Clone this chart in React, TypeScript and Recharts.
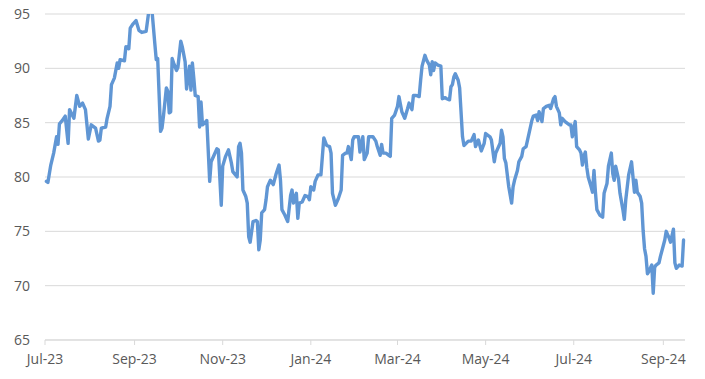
import React from 'react';
import { LineChart, Line, XAxis, YAxis, CartesianGrid } from 'recharts';

// Daily readings, Jul-2023 .. Sep-2024
const dates = [
  '2023-07-02', '2023-07-03', '2023-07-05', '2023-07-07', '2023-07-09', '2023-07-10', '2023-07-11', '2023-07-13',
  '2023-07-15', '2023-07-17', '2023-07-18', '2023-07-21', '2023-07-23', '2023-07-25', '2023-07-27', '2023-07-29',
  '2023-07-31', '2023-08-02', '2023-08-05', '2023-08-07', '2023-08-08', '2023-08-09', '2023-08-12', '2023-08-13',
  '2023-08-15', '2023-08-16', '2023-08-18', '2023-08-20', '2023-08-21', '2023-08-22', '2023-08-25', '2023-08-26',
  '2023-08-28', '2023-08-29', '2023-08-31', '2023-09-02', '2023-09-04', '2023-09-06', '2023-09-09', '2023-09-10',
  '2023-09-11', '2023-09-13', '2023-09-15', '2023-09-16', '2023-09-17', '2023-09-19', '2023-09-20', '2023-09-21',
  '2023-09-23', '2023-09-24', '2023-09-25', '2023-09-26', '2023-09-27', '2023-09-28', '2023-09-30', '2023-10-01',
  '2023-10-03', '2023-10-04', '2023-10-06', '2023-10-07', '2023-10-09', '2023-10-10', '2023-10-11', '2023-10-12',
  '2023-10-13', '2023-10-15', '2023-10-16', '2023-10-17', '2023-10-18', '2023-10-19', '2023-10-21', '2023-10-23',
  '2023-10-24', '2023-10-27', '2023-10-28', '2023-10-29', '2023-10-31', '2023-11-01', '2023-11-03', '2023-11-05',
  '2023-11-07', '2023-11-08', '2023-11-11', '2023-11-12', '2023-11-13', '2023-11-14', '2023-11-15', '2023-11-17',
  '2023-11-18', '2023-11-19', '2023-11-20', '2023-11-22', '2023-11-24', '2023-11-25', '2023-11-26', '2023-11-27',
  '2023-11-28', '2023-11-30', '2023-12-01', '2023-12-02', '2023-12-04', '2023-12-06', '2023-12-08', '2023-12-10',
  '2023-12-11', '2023-12-12', '2023-12-14', '2023-12-16', '2023-12-18', '2023-12-19', '2023-12-20', '2023-12-22',
  '2023-12-23', '2023-12-24', '2023-12-26', '2023-12-28', '2023-12-30', '2023-12-31', '2024-01-01', '2024-01-03',
  '2024-01-04', '2024-01-06', '2024-01-08', '2024-01-09', '2024-01-10', '2024-01-12', '2024-01-14', '2024-01-15',
  '2024-01-16', '2024-01-18', '2024-01-20', '2024-01-22', '2024-01-23', '2024-01-25', '2024-01-26', '2024-01-27',
  '2024-01-29', '2024-01-30', '2024-01-31', '2024-02-03', '2024-02-04', '2024-02-06', '2024-02-07', '2024-02-09',
  '2024-02-10', '2024-02-13', '2024-02-15', '2024-02-16', '2024-02-18', '2024-02-19', '2024-02-20', '2024-02-22',
  '2024-02-24', '2024-02-25', '2024-02-26', '2024-02-28', '2024-03-01', '2024-03-02', '2024-03-04', '2024-03-06',
  '2024-03-08', '2024-03-09', '2024-03-11', '2024-03-12', '2024-03-14', '2024-03-16', '2024-03-17', '2024-03-18',
  '2024-03-20', '2024-03-21', '2024-03-23', '2024-03-24', '2024-03-25', '2024-03-26', '2024-03-27', '2024-03-29',
  '2024-03-31', '2024-04-01', '2024-04-03', '2024-04-04', '2024-04-06', '2024-04-07', '2024-04-08', '2024-04-09',
  '2024-04-10', '2024-04-12', '2024-04-13', '2024-04-15', '2024-04-16', '2024-04-19', '2024-04-21', '2024-04-23',
  '2024-04-24', '2024-04-26', '2024-04-28', '2024-04-30', '2024-05-01', '2024-05-04', '2024-05-05', '2024-05-07',
  '2024-05-08', '2024-05-11', '2024-05-12', '2024-05-13', '2024-05-14', '2024-05-15', '2024-05-17', '2024-05-19',
  '2024-05-20', '2024-05-21', '2024-05-23', '2024-05-24', '2024-05-26', '2024-05-27', '2024-05-29', '2024-05-31',
  '2024-06-02', '2024-06-03', '2024-06-05', '2024-06-06', '2024-06-07', '2024-06-09', '2024-06-10', '2024-06-12',
  '2024-06-14', '2024-06-15', '2024-06-17', '2024-06-18', '2024-06-19', '2024-06-21', '2024-06-22', '2024-06-23',
  '2024-06-25', '2024-06-28', '2024-06-29', '2024-06-30', '2024-07-02', '2024-07-03', '2024-07-05', '2024-07-06',
  '2024-07-07', '2024-07-08', '2024-07-09', '2024-07-10', '2024-07-11', '2024-07-13', '2024-07-14', '2024-07-15',
  '2024-07-16', '2024-07-17', '2024-07-19', '2024-07-21', '2024-07-22', '2024-07-24', '2024-07-25', '2024-07-27',
  '2024-07-28', '2024-07-29', '2024-07-30', '2024-08-01', '2024-08-02', '2024-08-04', '2024-08-05', '2024-08-06',
  '2024-08-08', '2024-08-10', '2024-08-11', '2024-08-12', '2024-08-13', '2024-08-14', '2024-08-16', '2024-08-17',
  '2024-08-18', '2024-08-19', '2024-08-20', '2024-08-21', '2024-08-22', '2024-08-24', '2024-08-25', '2024-08-26',
  '2024-08-27', '2024-08-29', '2024-08-30', '2024-09-01', '2024-09-02', '2024-09-03', '2024-09-05', '2024-09-06',
  '2024-09-08', '2024-09-09', '2024-09-10', '2024-09-12', '2024-09-14', '2024-09-15',
];

const values = [
  79.6, 79.5, 81.1, 82.2, 83.7, 83.0, 84.9, 85.2,
  85.6, 83.1, 86.2, 85.4, 87.5, 86.5, 86.8, 86.2,
  83.5, 84.8, 84.5, 83.3, 83.4, 84.5, 84.6, 85.4,
  86.5, 88.5, 89.1, 90.5, 90.0, 90.8, 90.7, 92.0,
  91.8, 93.7, 94.1, 94.4, 93.5, 93.3, 93.4, 94.4,
  95.4, 95.4, 92.3, 90.8, 90.9, 84.2, 84.5, 85.6,
  88.2, 87.9, 85.9, 86.0, 90.9, 90.5, 89.8, 90.1,
  92.5, 92.0, 90.6, 88.1, 90.2, 88.0, 90.5, 89.1,
  87.5, 87.4, 84.6, 86.9, 84.8, 84.9, 85.2, 79.6,
  81.4, 82.3, 82.6, 82.5, 77.4, 81.0, 81.9, 82.5,
  81.3, 80.5, 80.0, 82.8, 83.1, 82.2, 78.8, 78.2,
  77.6, 74.5, 74.0, 75.9, 76.0, 75.9, 73.3, 74.2,
  76.7, 77.0, 77.9, 79.1, 79.7, 79.3, 80.3, 81.1,
  79.7, 77.0, 76.5, 75.9, 78.3, 78.8, 77.6, 78.5,
  76.2, 77.6, 77.7, 78.3, 78.2, 77.9, 79.1, 78.8,
  79.6, 80.2, 80.2, 81.9, 83.6, 82.9, 82.8, 82.2,
  78.5, 77.4, 78.0, 78.8, 82.0, 82.2, 82.2, 82.8,
  81.6, 83.4, 83.7, 83.7, 82.3, 83.7, 81.6, 82.2,
  83.7, 83.7, 83.3, 82.8, 82.0, 83.0, 82.2, 82.2,
  82.0, 81.9, 85.4, 85.7, 86.5, 87.4, 86.0, 85.4,
  86.3, 86.8, 86.2, 87.5, 87.5, 87.4, 88.9, 90.2,
  91.2, 90.8, 90.3, 89.4, 90.6, 89.8, 90.5, 90.3,
  90.2, 87.2, 87.3, 87.2, 87.1, 88.3, 88.5, 89.2,
  89.5, 88.9, 88.2, 83.7, 82.9, 83.3, 83.3, 83.9,
  82.8, 83.4, 82.4, 83.1, 84.0, 83.7, 83.4, 81.4,
  82.2, 83.1, 84.3, 83.7, 81.7, 81.3, 79.1, 77.6,
  79.1, 79.7, 80.6, 81.4, 81.9, 82.6, 82.8, 84.0,
  85.2, 85.6, 85.7, 85.2, 86.0, 85.1, 86.3, 86.5,
  86.6, 86.3, 87.2, 87.4, 86.5, 85.9, 84.8, 85.4,
  85.1, 84.8, 84.8, 83.7, 85.1, 82.8, 82.5, 82.2,
  81.1, 81.9, 82.3, 80.9, 80.0, 79.1, 78.6, 80.6,
  78.6, 77.0, 76.5, 76.3, 78.5, 79.4, 81.0, 82.2,
  80.3, 79.7, 81.0, 79.8, 78.5, 77.0, 76.1, 77.9,
  80.2, 81.4, 80.0, 78.6, 79.7, 78.6, 78.2, 77.6,
  75.1, 73.4, 72.7, 71.1, 71.3, 71.9, 69.3, 71.7,
  71.9, 72.1, 72.7, 73.7, 74.2, 75.0, 74.4, 74.0,
  75.2, 72.1, 71.6, 71.9, 71.8, 74.2,
];

const tickDates = ['2023-07-01', '2023-09-01', '2023-11-01', '2024-01-01', '2024-03-01', '2024-05-01', '2024-07-01', '2024-09-01'];
const yTicks = [65, 70, 75, 80, 85, 90, 95];
const monthNames = ['Jan', 'Feb', 'Mar', 'Apr', 'May', 'Jun', 'Jul', 'Aug', 'Sep', 'Oct', 'Nov', 'Dec'];

const data = dates.map((d, i) => ({ t: Date.parse(d), v: values[i] }));
const xTicks = tickDates.map((d) => Date.parse(d));

const fmtMonth = (t: number) => {
  const d = new Date(t);
  return `${monthNames[d.getUTCMonth()]}-${String(d.getUTCFullYear()).slice(2)}`;
};

const tickStyle = { fontSize: 14, fill: '#595959', fontFamily: '"Open Sans", sans-serif' };

export default function App() {
  return (
    <div style={{ position: 'fixed', left: 0, top: 0, width: 705, height: 379, background: '#fff' }}>
      <LineChart width={705} height={379} data={data} margin={{ top: 14, right: 20, left: 0, bottom: 0 }}>
        <CartesianGrid vertical={false} stroke="#d9d9d9" />
        <XAxis
          dataKey="t"
          type="number"
          scale="time"
          domain={[Date.parse('2023-07-01'), Date.parse('2024-09-16')]}
          ticks={xTicks}
          tickFormatter={fmtMonth}
          tick={tickStyle}
          height={39}
          tickSize={5}
          tickMargin={9}
          axisLine={{ stroke: '#d9d9d9' }}
          tickLine={{ stroke: '#d9d9d9' }}
          interval={0}
        />
        <YAxis
          domain={[65, 95]}
          ticks={yTicks}
          allowDataOverflow
          width={45}
          tick={tickStyle}
          axisLine={false}
          tickLine={false}
          tickMargin={9}
        />
        <Line
          type="linear" dataKey="v" stroke="#6096d4" strokeWidth={3.4}
          strokeLinejoin="round" strokeLinecap="round"
          dot={false} isAnimationActive={false}
        />
      </LineChart>
    </div>
  );
}
